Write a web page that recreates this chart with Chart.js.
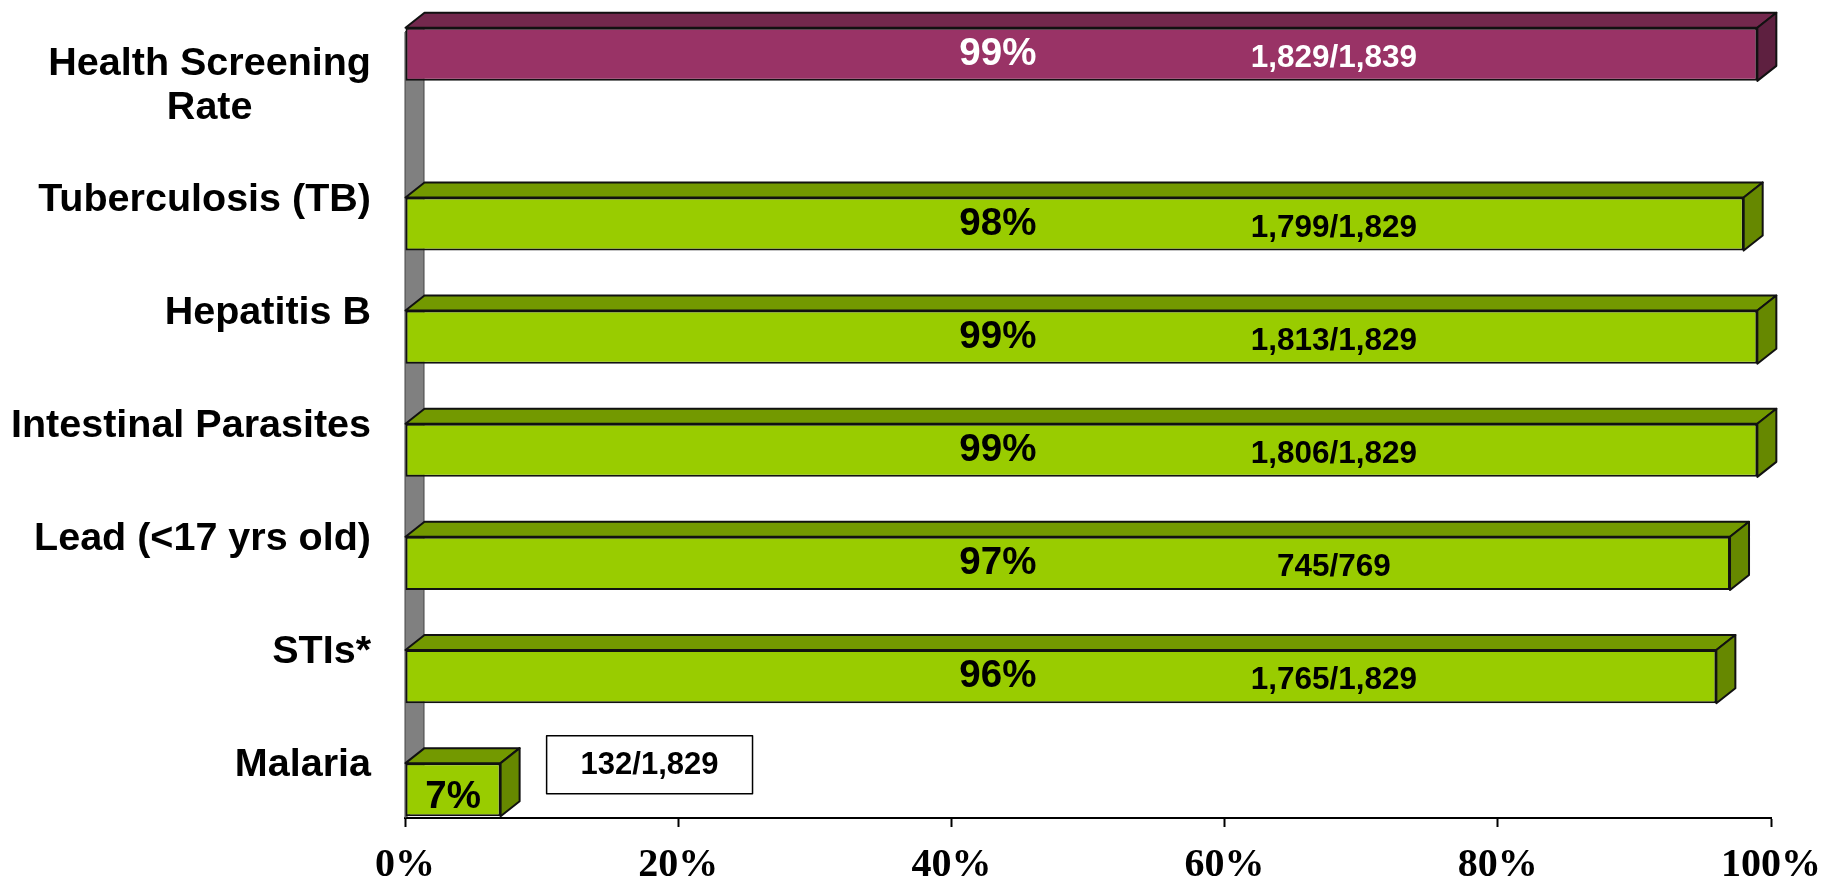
<!DOCTYPE html>
<html lang="en">
<head>
    <meta charset="utf-8" />
    <title>Health Screening Rates</title>
    <script src="https://cdn.jsdelivr.net/npm/chart.js"></script>
    <style>
        html, body { margin: 0; padding: 0; background: #fff; }
        #wrap { width: 1837px; height: 881px; position: relative; }
    </style>
</head>
<body>
    <div id="wrap"><canvas id="screeningChart"></canvas></div>

    <script>
        // data
        const categories = [
            ['Health Screening', 'Rate'],
            'Tuberculosis (TB)',
            'Hepatitis B',
            'Intestinal Parasites',
            'Lead (<17 yrs old)',
            'STIs*',
            'Malaria'
        ];
        const overallRate = [99, null, null, null, null, null, null];
        const testRates = [null, 98, 99, 99, 97, 96, 7];
        const screened = [1829, 1799, 1813, 1806, 745, 1765, 132];
        const eligible = [1839, 1829, 1829, 1829, 769, 1829, 1829];
        const xTicks = [0, 20, 40, 60, 80, 100];

        const SANS = '"Liberation Sans", Arial, sans-serif';
        const SERIF = '"Liberation Serif", "Times New Roman", serif';
        const DX = 19, DY = 15;   // 3d depth of the bars

        const faces = [
            { front: '#993366', top: '#73284d', side: '#5e2040', text: '#fff' },
            { front: '#99cc00', top: '#739900', side: '#668800', text: '#000' }
        ];

        function fmt(n) { return n.toLocaleString('en-US'); }

        const bar3d = {
            id: 'bar3d',
            beforeDatasetsDraw(chart) {
                const { ctx, chartArea: a } = chart;
                // grey side wall behind the bars
                ctx.save();
                ctx.beginPath();
                ctx.moveTo(a.left, a.top + 6);
                ctx.lineTo(a.left + DX, a.top + 6 - DY);
                ctx.lineTo(a.left + DX, a.bottom - DY);
                ctx.lineTo(a.left, a.bottom);
                ctx.closePath();
                ctx.fillStyle = '#808080';
                ctx.fill();
                ctx.lineWidth = 1;
                ctx.strokeStyle = '#444';
                ctx.stroke();
                ctx.restore();
            },
            afterDatasetsDraw(chart) {
                const { ctx } = chart;
                const xs = chart.scales.x;
                ctx.save();
                ctx.lineJoin = 'round';
                chart.data.datasets.forEach((ds, di) => {
                    const meta = chart.getDatasetMeta(di);
                    const c = faces[di];
                    meta.data.forEach((bar, j) => {
                        const v = ds.data[j];
                        if (v == null) return;
                        const { x, y, base, height } = bar.getProps(['x', 'y', 'base', 'height'], true);
                        const t = y - height / 2, b = y + height / 2;

                        // top face
                        ctx.beginPath();
                        ctx.moveTo(base, t);
                        ctx.lineTo(base + DX, t - DY);
                        ctx.lineTo(x + DX, t - DY);
                        ctx.lineTo(x, t);
                        ctx.closePath();
                        ctx.fillStyle = c.top;
                        ctx.fill();
                        ctx.lineWidth = 2;
                        ctx.strokeStyle = '#111';
                        ctx.stroke();

                        // right side face
                        ctx.beginPath();
                        ctx.moveTo(x, t);
                        ctx.lineTo(x + DX, t - DY);
                        ctx.lineTo(x + DX, b - DY);
                        ctx.lineTo(x, b);
                        ctx.closePath();
                        ctx.fillStyle = c.side;
                        ctx.fill();
                        ctx.stroke();

                        const frac = fmt(screened[j]) + '/' + fmt(eligible[j]);
                        ctx.fillStyle = c.text;
                        ctx.textBaseline = 'middle';
                        ctx.textAlign = 'center';

                        if (v > 43) {
                            ctx.font = 'bold 38.5px ' + SANS;
                            ctx.fillText(v + '%', xs.getPixelForValue(43.4), y);
                            ctx.font = 'bold 31.5px ' + SANS;
                            ctx.fillText(frac, xs.getPixelForValue(68), y + 4);
                        } else {
                            // short bar: percent inside, count in a box beside it
                            ctx.font = 'bold 38.5px ' + SANS;
                            ctx.fillText(v + '%', (base + x) / 2, y + 8);
                            ctx.font = 'bold 31px ' + SANS;
                            const w = ctx.measureText(frac).width + 68;
                            const bx = x + 46, by = y - 25;
                            ctx.fillStyle = '#fff';
                            ctx.fillRect(bx, by - 29, w, 58);
                            ctx.lineWidth = 1.5;
                            ctx.strokeStyle = '#000';
                            ctx.strokeRect(bx, by - 29, w, 58);
                            ctx.fillStyle = '#000';
                            ctx.fillText(frac, bx + w / 2, by + 1);
                        }
                    });
                });

                // category labels, right aligned block, lines centred inside it
                const ys = chart.scales.y;
                const right = chart.chartArea.left - 34;
                ctx.fillStyle = '#000';
                ctx.font = 'bold 39.5px ' + SANS;
                ctx.textBaseline = 'middle';
                ctx.textAlign = 'center';
                categories.forEach((lab, i) => {
                    const lines = Array.isArray(lab) ? lab : [lab];
                    const w = Math.max(...lines.map(l => ctx.measureText(l).width));
                    const cy = ys.getPixelForTick(i) + 4;
                    const lh = 44;
                    lines.forEach((l, k) => {
                        ctx.fillText(l, right - w / 2, cy + (k - (lines.length - 1) / 2) * lh);
                    });
                });
                ctx.restore();
            }
        };

        const ctx = document.getElementById('screeningChart').getContext('2d');
        new Chart(ctx, {
            type: 'bar',
            data: {
                labels: categories,
                datasets: [
                    {
                        label: 'Health Screening Rate',
                        data: overallRate,
                        backgroundColor: faces[0].front
                    },
                    {
                        label: 'Screening by test',
                        data: testRates,
                        backgroundColor: faces[1].front
                    }
                ]
            },
            options: {
                indexAxis: 'y',
                responsive: true,
                maintainAspectRatio: false,
                animation: false,
                layout: { padding: { top: 26, right: 66, left: 0, bottom: 0 } },
                datasets: {
                    bar: {
                        categoryPercentage: 1,
                        barPercentage: 0.94,
                        borderWidth: 2,
                        borderColor: '#111',
                        borderSkipped: false
                    }
                },
                plugins: {
                    legend: { display: false },
                    tooltip: { enabled: false }
                },
                scales: {
                    x: {
                        min: 0,
                        max: 100,
                        afterBuildTicks: s => { s.ticks = xTicks.map(v => ({ value: v })); },
                        afterFit: s => {
                            s.height = 63;
                            s.paddingLeft = 0;
                            s.paddingRight = 0;
                        },
                        ticks: {
                            callback: v => v + '%',
                            color: '#000',
                            padding: 19,
                            maxRotation: 0,
                            font: { family: SERIF, size: 40, weight: 'bold', lineHeight: 1 }
                        },
                        grid: {
                            drawOnChartArea: false,
                            tickLength: 9,
                            tickColor: '#000',
                            tickWidth: 2
                        },
                        border: { color: '#000', width: 2 }
                    },
                    y: {
                        afterFit: s => { s.width = 405; },
                        ticks: { display: false },
                        grid: { display: false },
                        border: { display: false }
                    }
                }
            },
            plugins: [bar3d]
        });
    </script>
</body>
</html>
